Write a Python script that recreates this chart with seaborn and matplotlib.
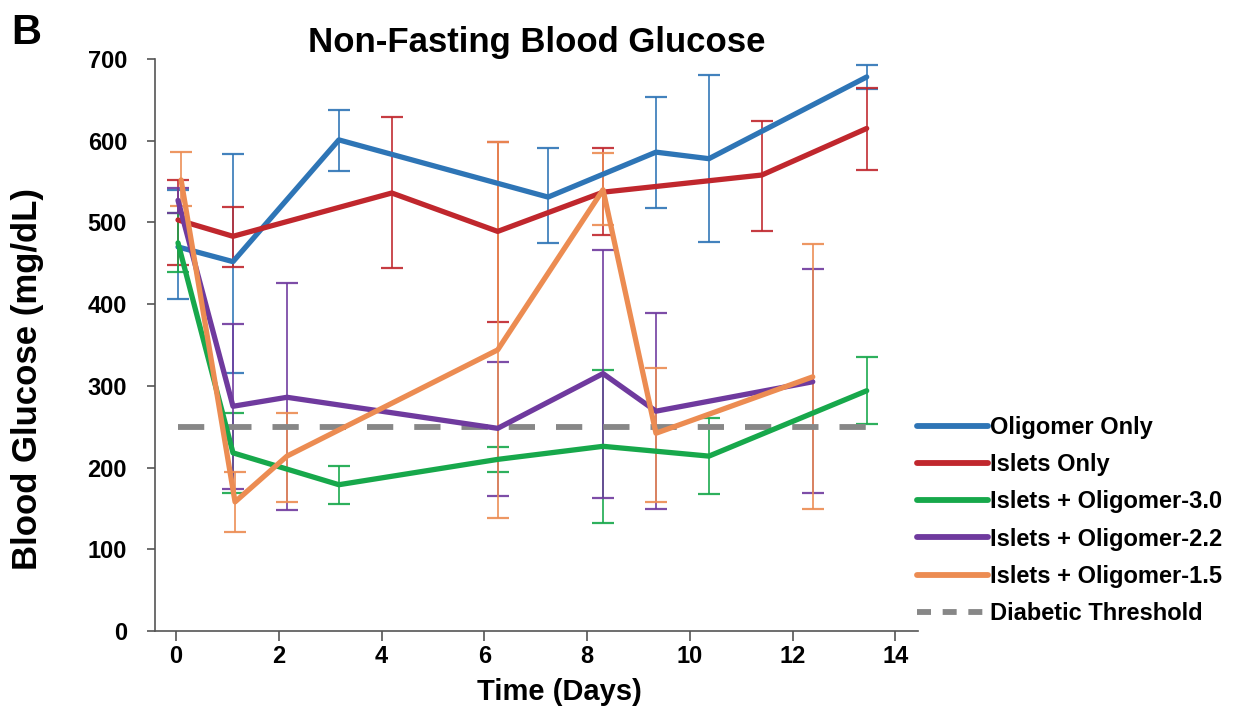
import numpy as np
import pandas as pd
import matplotlib
matplotlib.use("Agg")
import matplotlib.pyplot as plt
from matplotlib.lines import Line2D
import seaborn as sns

# ---------------------------------------------
# Data
# ---------------------------------------------
groups = ["Oligomer Only", "Islets Only", "Islets + Oligomer-3.0",
          "Islets + Oligomer-2.2", "Islets + Oligomer-1.5"]
colors = ["#2e75b6", "#c0272d", "#17a84b", "#6f3a9e", "#ec8c52"]

olig_days = [0.04, 1.11, 3.17, 7.24, 9.34, 10.37, 13.44]
olig_mean = [470, 452, 601, 531, 586, 578, 678]
olig_lo = [406, 316, 563, 475, 518, 476, 663]
olig_hi = [540, 584, 638, 591, 653, 680, 693]

islet_days = [0.04, 1.11, 4.2, 6.26, 8.31, 11.4, 13.44]
islet_mean = [503, 483, 536, 489, 537, 558, 615]
islet_lo = [448, 446, 444, 378, 485, 490, 564]
islet_hi = [552, 519, 629, 598, 591, 624, 665]

o30_days = [0.04, 1.11, 3.17, 6.26, 8.31, 10.37, 13.44]
o30_mean = [475, 218, 179, 210, 226, 214, 294]
o30_lo = [439, 169, 155, 195, 132, 168, 253]
o30_hi = [511, 267, 202, 225, 320, 261, 335]

o22_days = [0.04, 1.11, 2.16, 6.26, 8.31, 9.34, 12.39]
o22_mean = [527, 275, 286, 248, 315, 269, 305]
o22_lo = [512, 174, 148, 165, 163, 149, 169]
o22_hi = [542, 376, 426, 329, 466, 389, 443]

o15_days = [0.1, 1.15, 2.16, 6.26, 8.31, 9.34, 12.39]
o15_mean = [552, 158, 214, 344, 540, 242, 311]
o15_lo = [520, 121, 158, 138, 497, 158, 149]
o15_hi = [586, 195, 267, 598, 585, 322, 474]

threshold = 250
threshold_days = [0.04, 13.44]

series = [
    (olig_days, olig_mean, olig_lo, olig_hi),
    (islet_days, islet_mean, islet_lo, islet_hi),
    (o30_days, o30_mean, o30_lo, o30_hi),
    (o22_days, o22_mean, o22_lo, o22_hi),
    (o15_days, o15_mean, o15_lo, o15_hi),
]

rows = []
for name, (d, m, lo, hi) in zip(groups, series):
    for di, mi, li, hi_ in zip(d, m, lo, hi):
        rows.append({"group": name, "day": di, "glucose": mi, "lo": li, "hi": hi_})
df = pd.DataFrame(rows)

# ---------------------------------------------
# Plot
# ---------------------------------------------
sns.set_style("ticks")
plt.rcParams['font.family'] = ['Liberation Sans', 'DejaVu Sans']
plt.rcParams['font.weight'] = 'bold'
plt.rcParams['text.color'] = 'black'
plt.rcParams['axes.labelcolor'] = 'black'

fig = plt.figure(figsize=(12.39, 7.15), dpi=100)
ax = fig.add_axes([0.125, 0.1175, 0.616, 0.80])

palette = dict(zip(groups, colors))

# error bars first so the lines sit on top
for name in groups:
    sub = df[df["group"] == name]
    yerr = np.vstack([sub["glucose"] - sub["lo"], sub["hi"] - sub["glucose"]])
    ax.errorbar(sub["day"], sub["glucose"], yerr=yerr, fmt="none",
                ecolor=palette[name], elinewidth=1.3, capsize=8, capthick=1.6,
                alpha=0.9, zorder=2)

sns.lineplot(data=df, x="day", y="glucose", hue="group", hue_order=groups,
             palette=palette, linewidth=3.8, errorbar=None, legend=False,
             ax=ax, zorder=3)

ax.plot(threshold_days, [threshold, threshold], color="#878787", linewidth=4.2,
        dashes=(4.5, 3.6), zorder=2.5)

ax.set_xlim(-0.41, 14.44)
ax.set_ylim(0, 700)
ax.set_xticks(np.arange(0, 15, 2))
ax.set_yticks(np.arange(0, 701, 100))
sns.despine(ax=ax)
for sp in ["left", "bottom"]:
    ax.spines[sp].set_color("#555555")
    ax.spines[sp].set_linewidth(1.2)
ax.tick_params(axis="x", length=7, width=1.2, colors="#555555", labelcolor="black",
               labelsize=17, pad=3)
ax.tick_params(axis="y", length=6, width=1.2, colors="#555555", labelcolor="black",
               labelsize=17, pad=14)
for lab in ax.get_xticklabels() + ax.get_yticklabels():
    lab.set_fontweight("bold")

ax.set_xlabel("Time (Days)", fontsize=21, fontweight="bold", color="black")
ax.set_ylabel("Blood Glucose (mg/dL)", fontsize=25, fontweight="bold", color="black")
ax.xaxis.set_label_coords(0.53, -0.083)
ax.yaxis.set_label_coords(-0.145, 0.44)
ax.set_title("Non-Fasting Blood Glucose", fontsize=25, fontweight="bold", pad=5,
             color="black")

fig.text(0.009, 0.982, "B", fontsize=30, fontweight="bold", va="top", ha="left",
         color="black")

handles = [Line2D([0], [0], color=c, linewidth=4.2) for c in colors]
handles.append(Line2D([0], [0], color="#878787", linewidth=4.2, dashes=(2.4, 2.0)))
labels = groups + ["Diabetic Threshold"]
leg = fig.legend(handles, labels, loc="upper left", bbox_to_anchor=(0.740, 0.418),
                 frameon=False, handlelength=3.0, handletextpad=0.1,
                 labelspacing=0.6, borderpad=0, borderaxespad=0,
                 prop={"weight": "bold", "size": 17})
for t in leg.get_texts():
    t.set_color("black")

fig.savefig("out.png", dpi=100)
